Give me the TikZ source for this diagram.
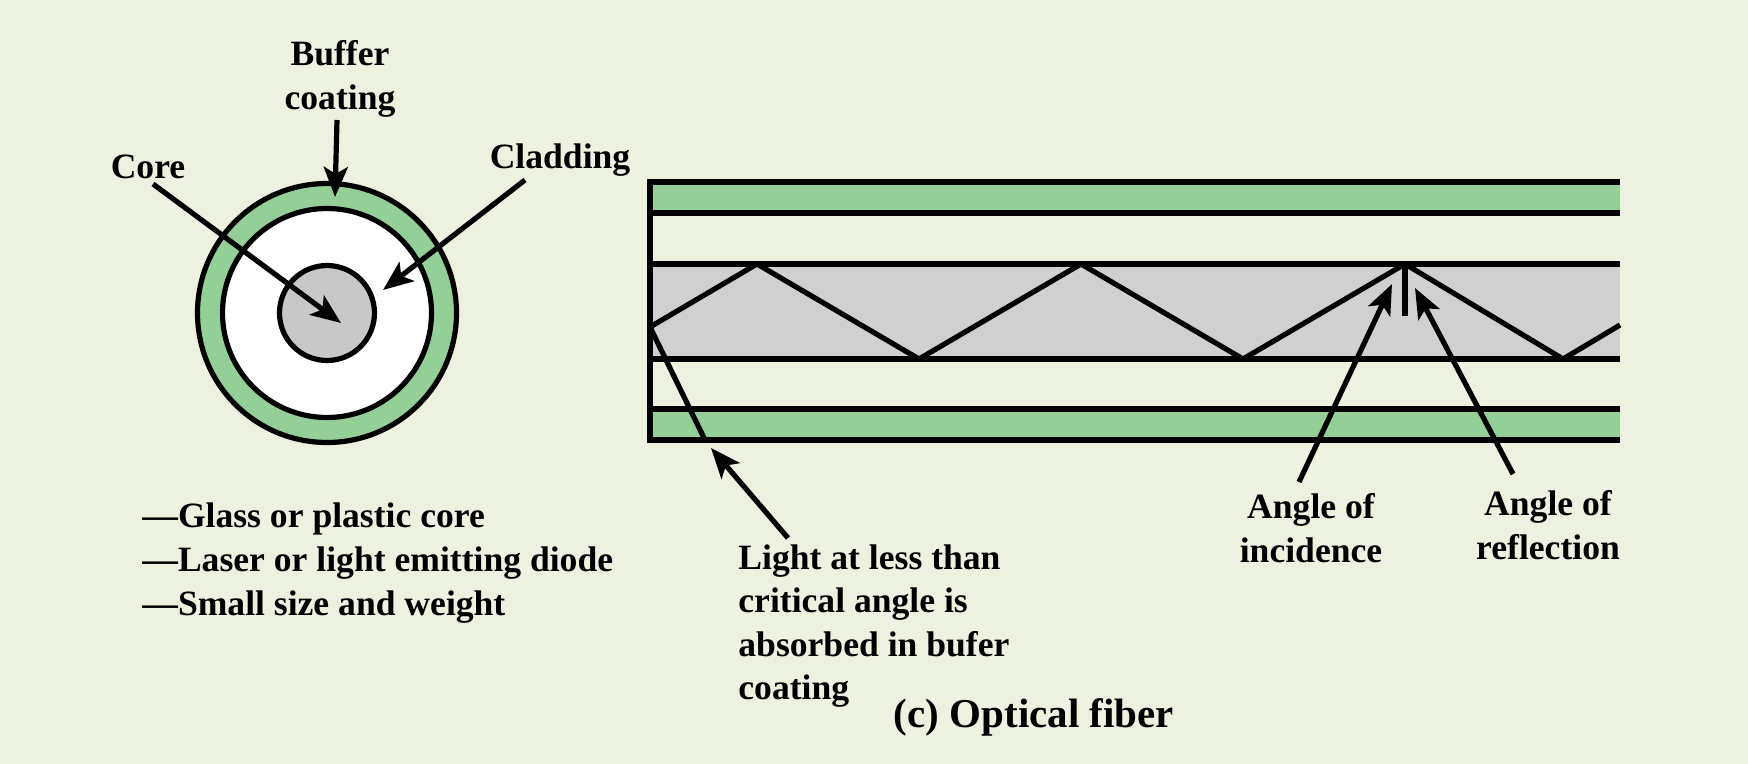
\documentclass[tikz,border=0pt]{standalone}
\usepackage{fontspec}
\setmainfont{Liberation Serif}
\usetikzlibrary{arrows.meta}
\definecolor{bg}{RGB}{237,241,224}
\definecolor{bufgreen}{RGB}{147,207,151}
\definecolor{coregray}{RGB}{200,200,200}
\definecolor{fibgray}{RGB}{208,208,208}
\begin{document}
\begin{tikzpicture}[x=0.5pt,y=-0.5pt,
  ln/.style={line width=2.6pt},
  arr/.style={line width=2.6pt,-{Stealth[length=15pt,width=12pt,inset=3.5pt]}},
  lbl/.style={font=\fontsize{17.8}{21.8}\selectfont\bfseries, inner sep=0pt},
  ttl/.style={font=\fontsize{20.5}{24}\selectfont\bfseries, inner sep=0pt}]
\fill[bg] (0,0) rectangle (1748,764);
\useasboundingbox (0,0) rectangle (1748,764);

% ---- cross-section
\coordinate (ctr) at (327,313);
\draw[ln, fill=bufgreen] (ctr) circle[radius=64.75pt];
\draw[ln, fill=white] (ctr) circle[radius=52.25pt];
\draw[ln, fill=coregray] (ctr) circle[radius=23.75pt];

\node[lbl, align=center] (buflbl) at (340,79) {Buffer\\coating};
\node[lbl] (corelbl) at (148,167) {Core};
\node[lbl] (cladlbl) at (560,160) {Cladding};

\coordinate (bufA) at (337,120);
\coordinate (bufB) at (335,197);
\coordinate (coreA) at (153,184);
\coordinate (coreB) at (341,323);
\coordinate (cladA) at (525,180);
\coordinate (cladB) at (383,290);
\draw[arr] (bufA) -- (bufB);
\draw[arr] (coreA) -- (coreB);
\draw[arr] (cladA) -- (cladB);

\node[lbl, align=left, anchor=west] (feat) at (142,563)
  {---Glass or plastic core\\---Laser or light emitting diode\\---Small size and weight};

% ---- fiber
\fill[bufgreen] (650,182) rectangle (1620,213);
\fill[fibgray] (650,264) rectangle (1620,359);
\fill[bufgreen] (650,409) rectangle (1620,440);
\foreach \y in {182,213,264,359,409,440} \draw[ln] (650,\y) -- (1620,\y);
\draw[ln, line cap=rect] (650,182) -- (650,440);

\coordinate (r0) at (650,327);
\draw[ln, line join=bevel] (r0) -- (757,264) -- (919,359) -- (1081,264) -- (1243,359)
  -- (1405,264) -- (1563,359) -- (1620,325);
\coordinate (resc) at (705,440);
\draw[ln] (r0) -- (resc);
\coordinate (nA) at (1405,264);
\coordinate (nB) at (1405,316);
\draw[ln] (nA) -- (nB);

\node[lbl, align=left, anchor=west] (lightlbl) at (738,626)
  {Light at less than\\critical angle is\\absorbed in bufer\\coating};
\coordinate (lA) at (788,538);
\coordinate (lB) at (711,448);
\draw[arr] (lA) -- (lB);

\node[lbl, align=center] (inclbl) at (1311,528) {Angle of\\incidence};
\node[lbl, align=center] (refllbl) at (1548,525) {Angle of\\reflection};
\coordinate (iA) at (1299,482);
\coordinate (iB) at (1392,284);
\coordinate (fA) at (1513,474);
\coordinate (fB) at (1415,288);
\draw[arr] (iA) -- (iB);
\draw[arr] (fA) -- (fB);

\node[ttl] (title) at (1034,717) {(c) Optical fiber};
\end{tikzpicture}
\end{document}
